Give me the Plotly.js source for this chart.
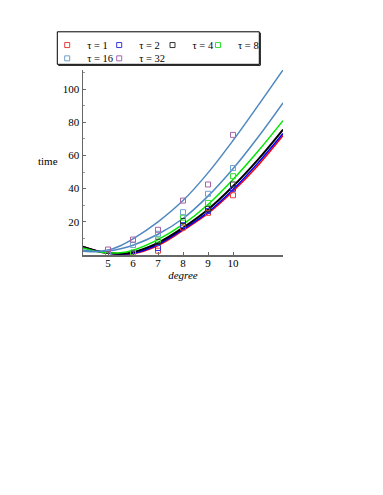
<!DOCTYPE html>
<html>
<head>
<meta charset="utf-8">
<script src="https://cdn.plot.ly/plotly-3.0.1.min.js"></script>
<style>
  html, body { margin: 0; padding: 0; background: #fff; }
  #chart { width: 383px; height: 495px; }
</style>
</head>
<body>
<div id="chart"></div>
<script>
// measured run times per polynomial degree, one list per tau
const degrees = [5, 6, 7, 8, 9, 10];
const tauLabels = ["τ = 1", "τ = 2", "τ = 4", "τ = 8", "τ = 16", "τ = 32"];
const time_t1 = [0.8, 0.6, 2.6, 16.5, 25.4, 36.0];
const time_t2 = [0.8, 0.8, 4.2, 18.0, 26.5, 39.9];
const time_t4 = [0.8, 1.0, 8.0, 20.5, 27.8, 42.5];
const time_t8 = [1.0, 1.5, 9.3, 22.5, 31.4, 47.5];
const time_t16 = [1.2, 6.0, 12.8, 25.8, 36.9, 52.4];
const time_t32 = [3.3, 9.3, 15.2, 32.8, 42.5, 72.4];

const fitDegrees = [4, 4.5, 5, 5.5, 6, 7, 8, 9, 10, 11, 12];
const fit_t1 = [5.2, 2.8, 1.2, 0.5, 0.7, 5.7, 14.8, 25.0, 38.4, 54.0, 72.0];
const fit_t2 = [5.0, 2.7, 1.2, 0.6, 1.0, 6.3, 15.4, 25.8, 39.5, 55.5, 73.2];
const fit_t4 = [4.8, 2.6, 1.2, 0.8, 1.7, 7.3, 16.4, 27.4, 41.4, 57.5, 75.6];
const fit_t8 = [4.2, 2.3, 1.3, 1.3, 2.9, 9.3, 18.4, 30.4, 45.5, 62.5, 81.0];
const fit_t16 = [2.3, 1.9, 2.4, 3.8, 5.9, 12.5, 22.0, 35.5, 52.0, 71.0, 91.7];
const fit_t32 = [3.0, 2.2, 3.0, 5.6, 9.7, 20.0, 32.8, 49.5, 69.0, 90.0, 111.5];

const FONT = "Liberation Serif, Times New Roman, serif";

const series = [
  { name: tauLabels[0], pts: time_t1, fit: fit_t1, mark: "#e8413f", line: "#ff0000", w: 1.5 },
  { name: tauLabels[1], pts: time_t2, fit: fit_t2, mark: "#3535e0", line: "#0000ff", w: 1.5 },
  { name: tauLabels[2], pts: time_t4, fit: fit_t4, mark: "#333333", line: "#000000", w: 2 },
  { name: tauLabels[3], pts: time_t8, fit: fit_t8, mark: "#33dd33", line: "#00e600", w: 1.5 },
  { name: tauLabels[4], pts: time_t16, fit: fit_t16, mark: "#6ea0d0", line: "#4f88c0", w: 1.5 },
  { name: tauLabels[5], pts: time_t32, fit: fit_t32, mark: "#a862a8", line: "#4f88c0", w: 1.5 },
];

// each legend entry gets its own legend so the 4 + 2 grid can be placed exactly
const legendIds = ["legend", "legend2", "legend3", "legend4", "legend5", "legend6"];
const legendX = [-0.179, 0.081, 0.3475, 0.575, -0.179, 0.081];
const legendY = [1.1348, 1.1348, 1.1348, 1.1348, 1.063, 1.063];

const traces = [];
series.forEach((s) => {
  traces.push({
    type: "scatter", mode: "lines", x: fitDegrees, y: s.fit,
    line: { color: s.line, width: s.w, shape: "spline" },
    showlegend: false, hoverinfo: "skip",
  });
});
series.forEach((s, i) => {
  traces.push({
    type: "scatter", mode: "markers", name: s.name, x: degrees, y: s.pts, legend: legendIds[i],
    marker: { symbol: "square-open", size: 5, color: s.mark, line: { width: 1, color: s.mark } },
  });
});

// legend frame in paper units (1 px ~ 0.005 in x, 0.0054 in y)
const box = { x0: -0.1285, x1: 0.8815, y0: 1.0307, y1: 1.2065 };

const layout = {
  width: 383, height: 495,
  margin: { l: 83, r: 100, t: 70, b: 239.5 },
  paper_bgcolor: "#fff", plot_bgcolor: "#fff",
  font: { family: FONT, size: 11, color: "#000" },
  showlegend: true,
  xaxis: {
    range: [4, 12], tickvals: degrees, ticks: "inside", ticklen: 3, tickcolor: "#666",
    showline: true, linecolor: "#666", linewidth: 1.5, showgrid: false, zeroline: false,
    tickfont: { family: FONT, size: 11 }, ticklabelstandoff: -3,
    title: { text: "<i>degree</i>", standoff: 0, font: { family: FONT, size: 11 } },
  },
  yaxis: {
    range: [0, 111.5], tickvals: [20, 40, 60, 80, 100], ticks: "inside", ticklen: 3, tickcolor: "#666",
    minor: { tickvals: [10, 30, 50, 70, 90, 110], ticks: "inside", ticklen: 2, tickcolor: "#999" },
    showline: true, linecolor: "#666", linewidth: 1.5, showgrid: false, zeroline: false,
    tickfont: { family: FONT, size: 11 },
  },
  shapes: [
    { type: "rect", xref: "paper", yref: "paper", x0: box.x0, x1: box.x1, y0: box.y0, y1: box.y1,
      line: { color: "#000", width: 1 }, layer: "above" },
    { type: "line", xref: "paper", yref: "paper", x0: box.x1 + 0.005, x1: box.x1 + 0.005,
      y0: box.y0 - 0.0054, y1: box.y1 - 0.005, line: { color: "#000", width: 1 } },
    { type: "line", xref: "paper", yref: "paper", x0: box.x0 + 0.005, x1: box.x1 + 0.005,
      y0: box.y0 - 0.0054, y1: box.y0 - 0.0054, line: { color: "#000", width: 1 } },
  ],
  annotations: [{
    text: "time", xref: "paper", yref: "paper", x: -0.115, xanchor: "right", y: 0.506,
    showarrow: false, font: { family: FONT, size: 11 },
  }],
};

legendIds.forEach((id, i) => {
  layout[id] = {
    x: legendX[i], xanchor: "left", y: legendY[i], yanchor: "middle",
    borderwidth: 0, bgcolor: "rgba(0,0,0,0)",
    font: { family: FONT, size: 10.5, color: "#000" },
    itemwidth: 30,
  };
});

Plotly.newPlot("chart", traces, layout, { displayModeBar: false, staticPlot: true });
</script>
</body>
</html>
